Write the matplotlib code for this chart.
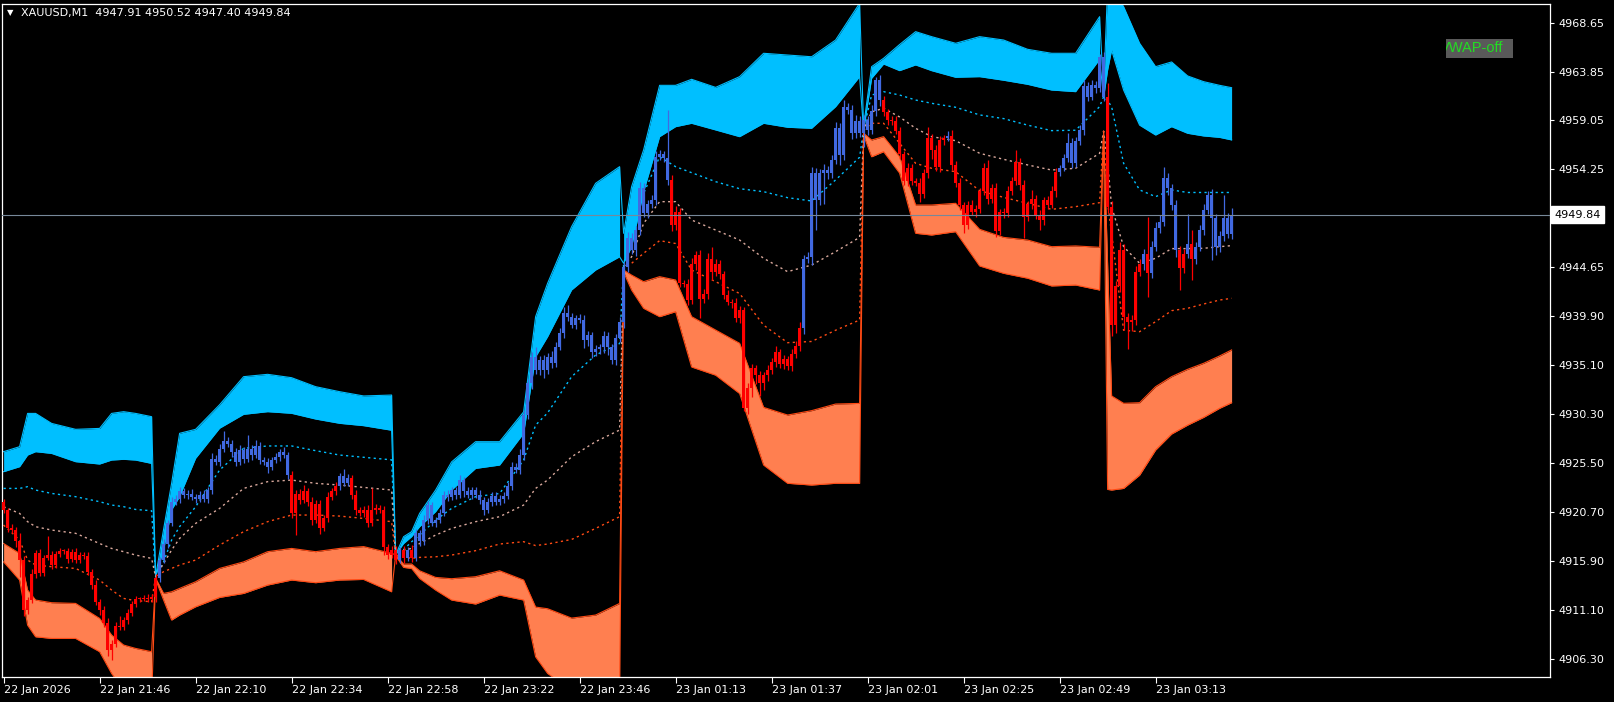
import numpy as np
import matplotlib
matplotlib.use("Agg")
import matplotlib.pyplot as plt
from matplotlib.patches import Rectangle
from matplotlib.transforms import Bbox, blended_transform_factory

W, H = 1614, 702

# ------------------------------------------------------------------
# XAUUSD M1 candles, bar 0 = 22 Jan 21:22 (open = previous close)
# ------------------------------------------------------------------
first_open = 4921.7
closes = [
    # 21:22 - 21:59
    4920.9, 4919.1, 4918.9, 4917.8, 4916.0, 4911.1, 4912.1, 4914.6, 4916.7, 4914.7,
    4916.2, 4916.5, 4915.5, 4916.6, 4916.9, 4916.9, 4916.1, 4916.8, 4916.0, 4916.5,
    4916.4, 4914.8, 4913.5, 4911.9, 4911.1, 4909.8, 4907.2, 4907.8, 4909.5, 4909.4,
    4910.1, 4910.8, 4911.7, 4912.2, 4912.2, 4912.3, 4912.2, 4912.4,
    # 22:00 - 22:59
    4914.2, 4916.0, 4917.6, 4919.6, 4921.7, 4922.0, 4922.7, 4922.4, 4922.5, 4922.2,
    4922.0, 4922.4, 4922.0, 4922.8, 4925.9, 4925.6, 4926.9, 4927.6, 4927.4, 4926.6,
    4925.6, 4926.8, 4925.9, 4926.9, 4926.3, 4927.2, 4925.8, 4925.6, 4925.1, 4925.8,
    4926.1, 4926.6, 4926.3, 4924.3, 4920.6, 4922.5, 4921.9, 4922.7, 4921.7, 4919.9,
    4921.5, 4919.1, 4920.1, 4922.2, 4922.7, 4923.2, 4924.2, 4923.5, 4924.0, 4922.4,
    4920.9, 4920.6, 4920.9, 4919.6, 4920.9, 4921.1, 4920.9, 4917.3, 4916.5, 4917.0,
    # 23:00 - 23:56
    4916.0, 4917.0, 4916.2, 4917.0, 4916.2, 4918.6, 4917.8, 4919.9, 4921.4, 4919.6,
    4919.9, 4920.6, 4922.4, 4922.2, 4922.8, 4922.4, 4923.8, 4922.7, 4922.4, 4922.8,
    4922.4, 4921.9, 4920.9, 4921.7, 4922.3, 4921.7, 4922.0, 4922.3, 4923.2, 4925.1,
    4924.8, 4926.3, 4930.2, 4933.3, 4935.9, 4934.6, 4935.6, 4934.6, 4935.9, 4935.3,
    4936.9, 4938.2, 4940.2, 4939.8, 4939.0, 4939.7, 4939.5, 4937.5, 4938.0, 4936.4,
    4936.7, 4936.9, 4937.9, 4936.9, 4935.6, 4937.7, 4939.3,
    # 01:00 - 01:59
    4944.7, 4947.5, 4946.4, 4948.3, 4952.4, 4950.0, 4950.9, 4951.3, 4955.5, 4955.8,
    4955.4, 4953.2, 4948.8, 4950.1, 4943.1, 4943.0, 4941.5, 4945.0, 4945.9, 4941.6,
    4942.1, 4945.5, 4944.2, 4945.0, 4944.0, 4942.0, 4941.3, 4941.2, 4939.7, 4940.5,
    4930.9, 4932.8, 4934.8, 4934.1, 4933.3, 4934.1, 4934.6, 4935.4, 4936.4, 4935.2,
    4935.7, 4935.0, 4936.2, 4937.0, 4938.7, 4945.5, 4945.7, 4953.9, 4951.3, 4953.9,
    4954.2, 4953.9, 4955.2, 4958.3, 4955.7, 4960.4, 4960.1, 4957.8, 4959.0, 4957.8,
    # 02:00 - 02:59
    4959.1, 4958.1, 4960.0, 4963.0, 4961.1, 4959.9, 4959.1, 4959.0, 4958.0, 4955.8,
    4953.1, 4954.4, 4953.1, 4952.9, 4951.9, 4953.9, 4957.3, 4956.2, 4954.5, 4957.1,
    4957.3, 4957.5, 4954.7, 4952.9, 4950.8, 4948.8, 4950.8, 4950.1, 4950.4, 4952.1,
    4954.4, 4951.4, 4952.4, 4948.2, 4950.1, 4950.0, 4952.1, 4953.1, 4955.0, 4952.7,
    4949.6, 4950.9, 4951.4, 4949.8, 4949.3, 4951.3, 4950.8, 4952.1, 4954.0, 4954.4,
    4955.4, 4956.8, 4954.9, 4957.0, 4958.1, 4962.4, 4961.4, 4962.5, 4962.2, 4965.3,
    # 03:00 - 03:32
    4961.4, 4950.6, 4939.0, 4942.8, 4946.4, 4939.8, 4939.3, 4939.5, 4944.2, 4945.0,
    4946.0, 4944.1, 4946.7, 4948.5, 4949.1, 4953.4, 4952.4, 4950.8, 4946.4, 4944.6,
    4946.0, 4947.0, 4945.5, 4946.7, 4948.3, 4950.3, 4951.8, 4949.5, 4946.7, 4947.7,
    4949.5, 4947.91, 4949.84,
]
# wick length above / below the body
wick_up = [
    0.3, 0.2, 0.4, 0.3, 0.8, 0.4, 0.3, 0.5, 0.3, 0.4, 0.3, 1.8, 0.4, 0.3, 0.3, 0.2, 0.3, 0.3, 0.4, 0.3,
    0.3, 0.4, 0.3, 0.5, 0.3, 0.4, 0.5, 0.3, 0.4, 1.0, 0.3, 0.4, 0.3, 0.3, 0.2, 0.3, 0.4, 0.3,
    0.4, 0.3, 0.4, 0.3, 0.5, 0.4, 0.4, 0.3, 0.3, 0.4, 0.3, 0.3, 0.4, 0.3, 0.6, 0.4, 0.5, 1.0, 0.4, 0.3,
    0.4, 0.5, 0.3, 1.3, 0.4, 0.5, 0.3, 0.3, 0.4, 0.3, 0.4, 0.3, 0.5, 0.3, 0.4, 0.3, 0.4, 0.6, 0.3, 0.5,
    0.4, 0.4, 0.3, 0.4, 0.3, 0.4, 0.3, 0.7, 0.4, 0.3, 0.4, 0.3, 0.4, 0.5, 2.1, 0.4, 0.3, 0.4, 0.3, 0.4,
    0.4, 0.3, 0.4, 0.3, 0.5, 0.4, 0.3, 0.5, 0.4, 0.3, 0.3, 0.4, 0.3, 0.4, 0.3, 0.3, 0.5, 0.3, 0.4, 0.3,
    0.3, 0.4, 0.3, 0.4, 0.3, 0.3, 0.4, 0.3, 0.4, 0.5, 0.4, 0.6, 0.5, 0.4, 0.5, 1.0, 0.4, 0.5, 0.4, 0.6,
    0.4, 0.5, 0.6, 0.8, 0.4, 0.3, 0.4, 0.5, 0.4, 0.3, 0.4, 0.3, 0.5, 0.4, 0.3, 0.4, 0.5,
    0.5, 0.6, 0.5, 0.4, 0.6, 0.5, 0.4, 0.5, 0.6, 0.4, 0.3, 4.7, 0.5, 0.6, 0.4, 0.3, 0.5, 0.6, 0.4, 0.5,
    0.4, 0.6, 1.2, 0.5, 0.4, 0.3, 0.4, 0.3, 0.5, 0.4, 0.3, 0.5, 0.4, 0.3, 0.4, 0.3, 0.5, 0.4, 0.6, 0.3,
    0.4, 0.3, 0.5, 0.4, 0.6, 0.4, 0.5, 0.6, 0.5, 0.4, 0.6, 0.4, 0.5, 0.6, 0.5, 0.7, 0.4, 0.5, 0.6, 0.5,
    0.5, 0.4, 0.6, 0.3, 0.5, 0.4, 0.3, 0.4, 0.5, 0.4, 0.3, 0.5, 0.4, 0.3, 0.5, 0.4, 1.1, 0.4, 0.5, 0.4,
    0.3, 0.5, 0.6, 0.4, 0.5, 0.3, 0.4, 0.5, 0.4, 0.3, 0.5, 0.8, 0.4, 0.5, 0.3, 0.4, 0.5, 0.4, 1.2, 0.4,
    0.5, 0.3, 0.8, 0.4, 0.5, 0.3, 0.4, 0.5, 0.4, 0.3, 0.4, 1.0, 0.5, 0.4, 0.5, 0.6, 0.4, 0.5, 0.4, 0.3,
    0.5, 1.3, 0.6, 0.5, 0.7, 0.6, 0.4, 0.5, 0.6, 0.5, 0.5, 3.6, 0.5, 0.6, 0.7, 1.1, 0.5, 0.4, 0.5, 0.4,
    0.5, 2.9, 1.3, 0.4, 0.5, 0.6, 0.3, 0.5, 0.4, 0.5, 2.3, 0.5, 0.68,
]
wick_dn = [
    0.3, 0.4, 0.3, 0.5, 1.7, 0.6, 0.4, 0.3, 0.4, 0.3, 0.3, 0.2, 0.4, 0.3, 0.3, 0.3, 0.4, 0.3, 0.3, 0.3,
    0.3, 0.3, 0.4, 0.3, 0.5, 0.4, 0.6, 1.0, 0.3, 0.3, 0.3, 0.4, 0.3, 0.3, 0.3, 0.2, 0.3, 0.3,
    0.5, 0.4, 0.3, 0.4, 0.3, 0.3, 0.4, 0.3, 0.4, 0.3, 0.4, 0.3, 0.3, 0.4, 0.3, 0.3, 0.4, 0.3, 0.3, 0.5,
    0.4, 0.3, 0.4, 0.3, 0.5, 0.3, 0.4, 0.3, 0.6, 0.3, 0.3, 0.4, 0.3, 0.4, 0.5, 2.2, 0.4, 0.3, 0.4, 0.5,
    0.3, 0.6, 0.3, 0.4, 0.3, 0.3, 0.4, 0.3, 0.3, 0.4, 0.5, 0.3, 0.4, 0.4, 0.3, 0.4, 0.3, 0.8, 0.4, 0.3,
    0.4, 0.3, 0.5, 0.3, 0.4, 0.3, 0.4, 0.3, 0.4, 0.3, 0.4, 0.3, 0.3, 0.4, 0.3, 0.4, 0.3, 0.5, 0.3, 0.4,
    0.3, 0.4, 0.5, 0.3, 0.4, 0.3, 0.3, 0.4, 0.3, 0.4, 0.3, 0.4, 0.5, 0.4, 0.6, 0.4, 0.5, 0.8, 0.4, 0.5,
    0.4, 0.3, 0.5, 0.4, 0.3, 0.4, 0.3, 0.7, 0.5, 0.6, 0.4, 0.5, 0.6, 0.8, 0.4, 0.5, 0.4,
    0.6, 0.5, 0.4, 0.6, 0.5, 0.4, 0.5, 0.4, 0.5, 0.3, 0.4, 0.5, 0.6, 0.5, 0.4, 0.3, 0.5, 0.4, 0.6, 1.9,
    0.4, 0.5, 0.8, 0.4, 0.5, 0.4, 0.3, 0.5, 0.4, 0.5, 0.3, 0.6, 0.8, 0.9, 1.2, 0.7, 0.6, 0.4, 0.5, 0.4,
    0.5, 0.4, 0.5, 0.4, 0.5, 0.6, 0.4, 0.8, 3.0, 0.5, 3.0, 0.6, 0.5, 0.4, 1.0, 0.5, 0.4, 0.6, 0.5, 0.4,
    1.3, 0.5, 0.4, 0.5, 0.6, 0.4, 0.5, 0.4, 0.3, 0.5, 0.4, 0.5, 0.4, 0.3, 0.8, 0.4, 0.5, 0.9, 0.4, 0.5,
    0.4, 0.3, 0.5, 0.4, 0.5, 0.8, 0.4, 0.3, 0.5, 0.4, 0.3, 0.5, 0.4, 0.6, 0.4, 0.5, 0.4, 0.3, 0.4, 0.5,
    2.1, 0.4, 0.5, 0.4, 1.0, 0.5, 0.4, 0.3, 0.5, 0.4, 0.3, 0.4, 0.5, 0.4, 0.3, 0.5, 0.4, 0.3, 0.5, 0.4,
    0.4, 0.6, 1.1, 0.8, 0.6, 1.3, 2.6, 0.9, 0.5, 0.4, 0.6, 2.3, 0.5, 0.4, 0.5, 0.4, 0.6, 0.5, 0.7, 2.2,
    0.5, 0.4, 2.1, 0.5, 0.4, 0.5, 0.4, 4.1, 0.8, 0.5, 0.5, 0.4, 0.51,
]
# candle colour runs: r = below VWAP (red), b = above (royal blue)
color_runs = [
    ("r", 38),
    ("r", 1), ("b", 33), ("r", 12), ("b", 3), ("r", 11),
    ("r", 1), ("b", 1), ("r", 1), ("b", 1), ("r", 1), ("b", 52),
    ("b", 12), ("r", 33), ("b", 15),
    ("b", 5), ("r", 16), ("b", 1), ("r", 27), ("b", 11),
    ("b", 1), ("r", 9), ("b", 1), ("r", 1), ("b", 7), ("r", 2), ("b", 1), ("r", 1), ("b", 10),
]

# ------------------------------------------------------------------
# hourly anchored VWAP bands (one row per anchor)
# ------------------------------------------------------------------
band_nodes = [
    [0, 4, 6, 8, 12, 18, 24, 27, 30, 33, 37],
    [38, 40, 42, 44, 48, 54, 60, 66, 72, 78, 84, 90, 97],
    [98, 100, 102, 104, 108, 112, 118, 124, 130, 133, 136, 142, 148, 154],
    [155, 157, 160, 164, 168, 172, 178, 184, 190, 196, 202, 208, 214],
    [215, 217, 220, 224, 228, 232, 238, 244, 250, 256, 262, 268, 274],
    [275, 276, 277, 280, 284, 288, 292, 296, 300, 304, 307],
]
ub_top = [
    [4926.6, 4927.09, 4930.35, 4930.35, 4929.37, 4928.79, 4928.88, 4930.35, 4930.52, 4930.35, 4930.03],
    [4914.35, 4919.0, 4923.5, 4928.4, 4928.79, 4931.2, 4933.95, 4934.18, 4933.85, 4932.97, 4932.48, 4932.06, 4932.15],
    [4916.5, 4918.27, 4918.76, 4920.55, 4922.84, 4925.6, 4927.58, 4927.58, 4930.5, 4939.83, 4943.1, 4948.65, 4952.9, 4954.53],
    [4948.0, 4952.57, 4956.17, 4962.5, 4962.5, 4963.09, 4962.3, 4963.35, 4965.64, 4965.47, 4965.3, 4966.94, 4970.54],
    [4958.5, 4964.33, 4965.15, 4966.5, 4967.76, 4967.27, 4966.62, 4967.27, 4966.94, 4966.03, 4965.64, 4965.64, 4969.23],
    [4962.0, 4972.0, 4972.0, 4970.21, 4966.62, 4964.33, 4964.79, 4963.42, 4962.86, 4962.5, 4962.27],
]
ub_bot = [
    [4924.64, 4925.13, 4926.27, 4926.6, 4926.43, 4925.62, 4925.39, 4925.78, 4925.85, 4925.78, 4925.45],
    [4914.35, 4917.0, 4920.9, 4922.2, 4925.95, 4928.9, 4930.26, 4930.52, 4930.36, 4929.8, 4929.38, 4929.15, 4928.7],
    [4916.5, 4917.6, 4918.27, 4919.25, 4920.72, 4922.84, 4924.96, 4925.29, 4928.4, 4935.9, 4937.87, 4942.45, 4944.4, 4945.7],
    [4945.06, 4946.69, 4952.08, 4957.47, 4958.45, 4958.78, 4958.13, 4957.47, 4958.78, 4958.39, 4958.29, 4960.41, 4963.35],
    [4958.1, 4963.19, 4964.59, 4963.94, 4964.5, 4963.94, 4963.29, 4963.35, 4963.0, 4962.6, 4962.04, 4961.88, 4965.05],
    [4961.3, 4964.0, 4965.96, 4962.04, 4958.6, 4957.63, 4958.45, 4957.8, 4957.54, 4957.4, 4957.15],
]
up_line = [
    [4923.0, 4923.0, 4923.17, 4922.84, 4922.51, 4922.19, 4921.7, 4921.37, 4921.21, 4920.94, 4920.81],
    [4914.35, 4915.8, 4917.94, 4919.25, 4921.2, 4924.8, 4926.93, 4927.16, 4927.16, 4926.7, 4926.27, 4926.05, 4925.8],
    [4916.5, 4917.0, 4917.77, 4918.43, 4919.9, 4921.04, 4922.19, 4922.5, 4925.78, 4929.2, 4930.4, 4933.95, 4936.07, 4937.2],
    [4945.0, 4948.0, 4951.9, 4955.5, 4954.53, 4953.94, 4953.06, 4952.37, 4952.08, 4951.49, 4951.17, 4953.23, 4955.45],
    [4958.2, 4961.55, 4961.88, 4961.55, 4961.06, 4960.74, 4960.35, 4959.6, 4959.24, 4958.6, 4958.06, 4958.1, 4960.41],
    [4961.4, 4961.0, 4960.41, 4954.86, 4952.25, 4951.59, 4952.25, 4952.0, 4952.0, 4952.0, 4952.0],
]
mid_line = [
    [4921.2, 4920.55, 4919.74, 4919.25, 4918.92, 4918.6, 4917.6, 4917.12, 4916.8, 4916.47, 4916.14],
    [4914.35, 4915.65, 4916.96, 4918.1, 4919.57, 4921.04, 4923.0, 4923.66, 4923.82, 4923.5, 4923.33, 4923.1, 4922.84],
    [4916.5, 4916.96, 4917.12, 4917.6, 4918.43, 4919.08, 4919.74, 4920.23, 4921.37, 4923.0, 4923.82, 4926.1, 4927.58, 4928.72],
    [4944.7, 4945.7, 4948.97, 4951.1, 4951.1, 4949.3, 4948.32, 4947.34, 4945.55, 4944.24, 4944.89, 4946.2, 4947.6],
    [4958.1, 4959.9, 4960.25, 4959.4, 4958.29, 4957.47, 4957.08, 4955.84, 4955.25, 4954.7, 4954.2, 4954.37, 4955.84],
    [4958.0, 4955.0, 4950.61, 4946.69, 4945.06, 4945.55, 4946.5, 4946.5, 4946.53, 4946.69, 4946.79],
]
lo_line = [
    [4919.41, 4917.94, 4915.98, 4915.49, 4915.33, 4915.16, 4914.02, 4913.04, 4912.22, 4912.0, 4911.9],
    [4914.35, 4914.84, 4915.16, 4915.49, 4915.98, 4917.45, 4918.76, 4919.74, 4920.39, 4920.39, 4920.29, 4920.06, 4919.74],
    [4916.5, 4916.3, 4916.14, 4916.24, 4916.3, 4916.47, 4916.9, 4917.55, 4917.78, 4917.4, 4917.55, 4918.0, 4919.08, 4920.23],
    [4944.6, 4945.06, 4946.04, 4947.28, 4947.0, 4944.4, 4943.26, 4942.1, 4939.0, 4937.28, 4937.4, 4938.5, 4939.5],
    [4958.1, 4958.78, 4958.78, 4956.82, 4954.86, 4954.37, 4954.04, 4952.18, 4951.52, 4950.94, 4950.35, 4950.61, 4951.0],
    [4958.0, 4951.0, 4948.0, 4938.5, 4938.36, 4939.34, 4940.42, 4940.65, 4941.07, 4941.46, 4941.63],
]
lb_top = [
    [4917.6, 4916.63, 4913.04, 4912.06, 4911.8, 4911.73, 4910.26, 4908.63, 4907.65, 4907.32, 4907.0],
    [4914.2, 4912.71, 4912.87, 4913.2, 4913.85, 4915.16, 4915.8, 4916.8, 4917.12, 4916.8, 4917.12, 4917.3, 4916.63],
    [4916.5, 4915.59, 4915.59, 4914.93, 4914.28, 4914.15, 4914.35, 4914.93, 4914.02, 4911.37, 4911.21, 4910.29, 4910.59, 4911.73],
    [4944.4, 4943.9, 4943.26, 4943.75, 4943.42, 4939.83, 4938.52, 4937.22, 4930.94, 4930.19, 4930.62, 4931.27, 4931.33],
    [4957.8, 4957.14, 4957.47, 4955.5, 4950.77, 4950.77, 4950.94, 4948.39, 4947.6, 4947.34, 4946.69, 4946.76, 4946.63],
    [4958.0, 4945.0, 4932.06, 4931.34, 4931.4, 4932.97, 4933.95, 4934.67, 4935.26, 4935.98, 4936.57],
]
lb_bot = [
    [4915.8, 4914.02, 4909.6, 4908.46, 4908.3, 4908.3, 4907.0, 4904.87, 4903.24, 4902.6, 4902.3],
    [4914.1, 4912.06, 4910.1, 4910.59, 4911.4, 4912.32, 4912.71, 4913.53, 4914.02, 4913.76, 4914.02, 4914.08, 4912.87],
    [4916.4, 4915.26, 4915.16, 4914.18, 4913.04, 4912.06, 4911.67, 4912.55, 4912.06, 4906.5, 4904.87, 4903.2, 4902.6, 4902.6],
    [4944.2, 4942.44, 4940.65, 4939.83, 4940.32, 4934.9, 4934.1, 4932.3, 4925.29, 4923.5, 4923.33, 4923.5, 4923.5],
    [4957.6, 4955.5, 4956.0, 4953.9, 4948.0, 4947.83, 4948.16, 4944.8, 4944.08, 4943.6, 4942.84, 4942.93, 4942.44],
    [4957.8, 4922.9, 4922.84, 4923.0, 4924.3, 4926.76, 4928.33, 4929.2, 4929.96, 4930.85, 4931.4],
]

# axis texts
time_ticks = [0, 24, 48, 72, 96, 120, 144, 168, 192, 216, 240, 264, 288]
time_labels = ["22 Jan 2026", "22 Jan 21:46", "22 Jan 22:10", "22 Jan 22:34",
               "22 Jan 22:58", "22 Jan 23:22", "22 Jan 23:46", "23 Jan 01:13",
               "23 Jan 01:37", "23 Jan 02:01", "23 Jan 02:25", "23 Jan 02:49",
               "23 Jan 03:13"]
price_labels = ["4968.65", "4963.85", "4959.05", "4954.25", "4949.45", "4944.65",
                "4939.90", "4935.10", "4930.30", "4925.50", "4920.70", "4915.90",
                "4911.10", "4906.30"]
last_price = 4949.84
header = "XAUUSD,M1  4947.91 4950.52 4947.40 4949.84"

C_UP = "#00BFFF"
C_LO = "#FF7F50"
C_LO_EDGE = "#FF4A14"
C_MID = "#D9A89C"
C_RED = "#FF0000"
C_BLUE = "#4169E1"

plt.rcParams['font.family'] = ['DejaVu Sans']
fig = plt.figure(figsize=(W / 100, H / 100), dpi=100, facecolor="black")
ax = fig.add_axes([2 / W, 25 / H, 1548 / W, 673 / H], facecolor="black")

# ---------------- bands -----------------
all_x = [x for seg in band_nodes for x in seg]
def flat(rows):
    return [v for r in rows for v in r]

for k, xs in enumerate(band_nodes):
    ax.fill_between(xs, ub_bot[k], ub_top[k], color=C_UP, lw=0, zorder=1)
    ax.fill_between(xs, lb_bot[k], lb_top[k], color=C_LO, lw=0, zorder=1)

ax.plot(all_x, flat(ub_top), color=C_UP, lw=0.8, zorder=1.5)
ax.plot(all_x, flat(ub_bot), color=C_UP, lw=0.8, zorder=1.5)
ax.plot(all_x, flat(lb_top), color=C_LO_EDGE, lw=0.8, zorder=1.5)
ax.plot(all_x, flat(lb_bot), color=C_LO_EDGE, lw=0.8, zorder=1.5)

dot = (0, (1.6, 2.4))
ax.plot(all_x, flat(up_line), color=C_UP, lw=1.0, ls=dot, zorder=2)
ax.plot(all_x, flat(mid_line), color=C_MID, lw=1.0, ls=dot, zorder=2)
ax.plot(all_x, flat(lo_line), color=C_LO_EDGE, lw=1.0, ls=dot, zorder=2)

# ---------------- candles -----------------
closes = np.array(closes)
opens = np.concatenate([[first_open], closes[:-1]])
idx = np.arange(len(closes))
body_hi = np.maximum(opens, closes)
body_lo = np.minimum(opens, closes)
highs = body_hi + np.array(wick_up)
lows = body_lo - np.array(wick_dn)
cols = []
for c, n in color_runs:
    cols += [C_RED if c == "r" else C_BLUE] * n

ax.vlines(idx, lows, highs, colors=cols, lw=0.9, zorder=3)
ax.bar(idx, np.maximum(body_hi - body_lo, 0.1), bottom=body_lo, width=0.72,
       color=cols, lw=0, zorder=3)

# current price line
ax.axhline(last_price, color="#778899", lw=0.8, zorder=4)

# ---------------- axes -----------------
ax.set_xlim(-0.4, 386.6)
ax.set_ylim(4904.52, 4970.47)
for s in ax.spines.values():
    s.set_color("white")
    s.set_linewidth(0.9)

ax.set_xticks(time_ticks)
ax.set_xticklabels(time_labels, ha="left")
ax.yaxis.tick_right()
ax.set_yticks(np.linspace(4968.65, 4906.30, len(price_labels)))
ax.set_yticklabels(price_labels)
ax.tick_params(axis="x", colors="white", length=4, width=0.8, pad=2, labelsize=8)
ax.tick_params(axis="y", colors="white", length=3, width=0.8, pad=3, labelsize=8)

# price box on the scale
tr = blended_transform_factory(ax.transAxes, ax.transData)
ax.text(1.003, last_price, "4949.84", transform=tr, fontsize=8, color="black",
        va="center", ha="left",
        bbox=dict(boxstyle="square,pad=0.3", fc="white", ec="white"), zorder=10,
        clip_on=False)

# header
fig.text(7 / W, 1 - 13 / H, "\u25bc", color="white", fontsize=6, va="center", ha="left")
fig.text(21 / W, 1 - 13 / H, header, color="white", fontsize=8, va="center", ha="left")

# VWAP-off button, clipped like the terminal label
bx0, by0, bw, bh = 1446, 39, 67, 19
fig.add_artist(Rectangle((bx0 / W, 1 - (by0 + bh) / H), bw / W, bh / H,
                         transform=fig.transFigure, color="#595959", lw=0))
t = fig.text((bx0 - 6) / W, 1 - (by0 + bh / 2) / H, "VWAP-off", color="#22DD22",
             fontsize=10.5, family="Liberation Sans", va="center", ha="left")
t.set_clip_box(Bbox([[bx0, H - by0 - bh], [bx0 + bw, H - by0]]))

fig.savefig("out.png", dpi=100, facecolor="black")
